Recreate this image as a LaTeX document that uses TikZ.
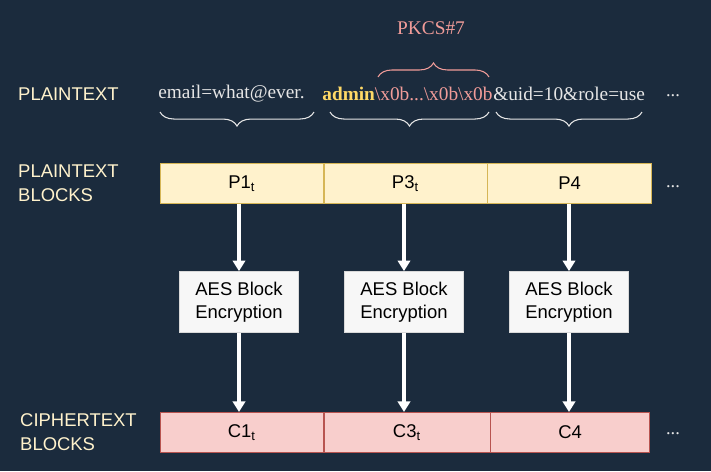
\documentclass[tikz,border=0pt]{standalone}
\usepackage{fontspec}
\setmainfont{Liberation Serif}
\newfontfamily\labelfont{Liberation Sans}
\usetikzlibrary{arrows.meta,positioning,decorations.pathreplacing}
\definecolor{bgnavy}{HTML}{1B2B3D}
\definecolor{ptfill}{HTML}{FFF2CC}
\definecolor{ptdraw}{HTML}{D6B656}
\definecolor{ctfill}{HTML}{F8CECC}
\definecolor{ctdraw}{HTML}{B85450}
\definecolor{padpink}{HTML}{F19C99}
\definecolor{txtgrey}{HTML}{E6E6E6}
\definecolor{adminyel}{HTML}{FFD966}
\tikzset{
  rowlabel/.style={font=\labelfont\fontsize{10.5}{13.5}\selectfont, text=ptfill, align=left, anchor=west},
  plain/.style={font=\fontsize{11}{13}\selectfont, text=txtgrey, inner sep=0pt},
  ptblock/.style={draw=ptdraw, fill=ptfill, minimum height=0.8cm, font=\labelfont\fontsize{10.5}{12}\selectfont, inner sep=0pt},
  ctblock/.style={draw=ctdraw, fill=ctfill, minimum height=0.8cm, font=\labelfont\fontsize{10.5}{12}\selectfont, inner sep=0pt},
  aes/.style={draw=white!70!gray, fill=white!94!gray, minimum width=2.38cm, minimum height=1.22cm, inner sep=0pt, align=center, font=\labelfont\fontsize{10.5}{13}\selectfont},
  flow/.style={-{Triangle[length=6pt,width=7pt]}, line width=2.3pt, white},
  brc/.style={decorate, decoration={brace, amplitude=8pt}, line width=0.6pt, txtgrey},
  dots/.style={font=\fontsize{10.5}{12}\selectfont, text=txtgrey}
}
\begin{document}
\begin{tikzpicture}[x=0.02cm,y=-0.02cm]
\fill[bgnavy] (0,0) rectangle (711,471);

% row labels
\node[rowlabel] (lplain) at (12,94) {PLAINTEXT};
\node[rowlabel] (lpblocks) at (12,183) {PLAINTEXT\\BLOCKS};
\node[rowlabel] (lcblocks) at (14,432) {CIPHERTEXT\\BLOCKS};

% plaintext string
\node[plain, anchor=west] (email) at (158,94) {email=what@ever.};
\node[plain, anchor=west] (admin) at (322,94) {\textbf{\textcolor{adminyel}{admin}}\textcolor{padpink}{\textbackslash x0b...\textbackslash x0b\textbackslash x0b}};
\node[plain, anchor=west] (uid) at (admin.east) {\&uid=10\&role=use};
\node[dots] (d0) at (673,96) {...};
\node[font=\fontsize{11}{13}\selectfont, text=padpink] (pkcs) at (431,28) {PKCS\#7};

% braces
\coordinate (b1l) at (160,112); \coordinate (b1r) at (314,112);
\coordinate (b2l) at (330,112); \coordinate (b2r) at (489,112);
\coordinate (b3l) at (496,112); \coordinate (b3r) at (642,112);
\coordinate (pkl) at (378,77);  \coordinate (pkr) at (489,77);
\draw[brc] (b1r) -- (b1l);
\draw[brc] (b2r) -- (b2l);
\draw[brc] (b3r) -- (b3l);
\draw[brc, padpink] (pkl) -- (pkr);

% plaintext blocks
\node[ptblock, minimum width=3.26cm, anchor=north west] (p1) at (160,163) {P1\textsubscript{t}};
\node[ptblock, minimum width=3.26cm, right=0 of p1] (p3) {P3\textsubscript{t}};
\node[ptblock, minimum width=3.28cm, right=0 of p3] (p4) {P4};
\node[dots] (d1) at (673,187) {...};

% encryption boxes
\node[aes] (e1) at (239,302) {AES Block\\Encryption};
\node[aes] (e3) at (404,302) {AES Block\\Encryption};
\node[aes] (e4) at (569,302) {AES Block\\Encryption};

% ciphertext blocks
\node[ctblock, minimum width=3.26cm, anchor=north west] (c1) at (160,412) {C1\textsubscript{t}};
\node[ctblock, minimum width=3.32cm, right=0 of c1] (c3) {C3\textsubscript{t}};
\node[ctblock, minimum width=3.18cm, right=0 of c3] (c4) {C4};
\node[dots] (d2) at (673,434) {...};

\foreach \p/\e/\c in {p1/e1/c1, p3/e3/c3, p4/e4/c4}{
  \draw[flow] (\p.south -| \e) -- (\e.north);
  \draw[flow] (\e.south) -- (\c.north -| \e);
}
\end{tikzpicture}
\end{document}
